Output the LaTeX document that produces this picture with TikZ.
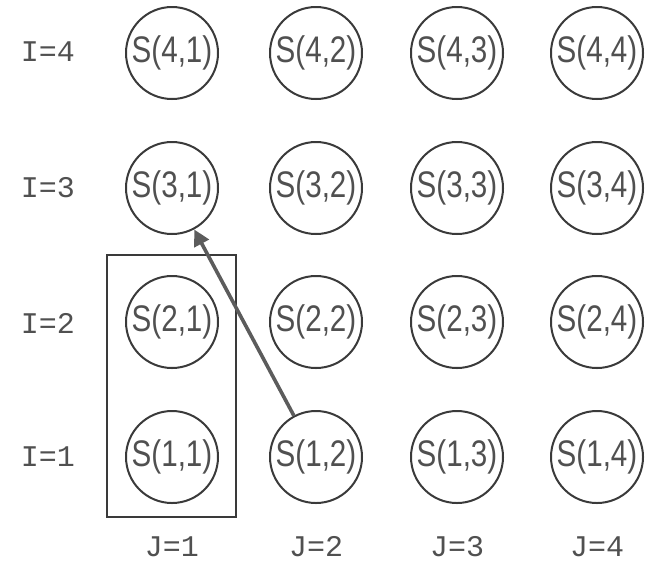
\documentclass[tikz,border=0pt]{standalone}
\usepackage{fontspec}
\usepackage{tikz}
\usetikzlibrary{arrows.meta}
\newfontfamily\statefont[FakeStretch=0.8]{Liberation Sans}
\newfontfamily\labelfont{Liberation Mono}
\definecolor{inkgray}{HTML}{3A3A3A}
\definecolor{textgray}{HTML}{505050}
\definecolor{arrowgray}{HTML}{5C5C5C}

\tikzset{
  state/.style={draw=inkgray, line width=1pt, circle, minimum size=46pt, inner sep=0pt,
    text=textgray, font=\statefont\fontsize{18.5}{20}\selectfont},
  idx/.style={text=textgray, font=\labelfont\fontsize{15}{17}\selectfont}
}

\begin{document}
\begin{tikzpicture}[x=0.5pt, y=-0.5pt]
        \useasboundingbox (0,0) rectangle (646,563);
        % row and column labels
        \node[idx] (i4) at (48,52) {I=4};
        \node[idx] (i3) at (48,188) {I=3};
        \node[idx] (i2) at (48,323) {I=2};
        \node[idx] (i1) at (48,457) {I=1};
        \node[idx] (j1) at (172,547) {J=1};
        \node[idx] (j2) at (316,547) {J=2};
        \node[idx] (j3) at (457,547) {J=3};
        \node[idx] (j4) at (597,547) {J=4};
        % states
        \node[state] (s41) at (172,53) {S(4,1)};
        \node[state] (s42) at (316,53) {S(4,2)};
        \node[state] (s43) at (457,53) {S(4,3)};
        \node[state] (s44) at (597,53) {S(4,4)};
        \node[state] (s31) at (172,188) {S(3,1)};
        \node[state] (s32) at (316,188) {S(3,2)};
        \node[state] (s33) at (457,188) {S(3,3)};
        \node[state] (s34) at (597,188) {S(3,4)};
        \node[state] (s21) at (172,322) {S(2,1)};
        \node[state] (s22) at (316,322) {S(2,2)};
        \node[state] (s23) at (457,322) {S(2,3)};
        \node[state] (s24) at (597,322) {S(2,4)};
        \node[state] (s11) at (172,457) {S(1,1)};
        \node[state] (s12) at (316,457) {S(1,2)};
        \node[state] (s13) at (457,457) {S(1,3)};
        \node[state] (s14) at (597,457) {S(1,4)};
        % box round column J=1
        \draw[inkgray, line width=1pt] (107,255) rectangle (236,517);
        \draw[-{Triangle[length=8pt, width=8pt]}, arrowgray, line width=1.8pt] (s12) -- (s31);
    \end{tikzpicture}
\end{document}
